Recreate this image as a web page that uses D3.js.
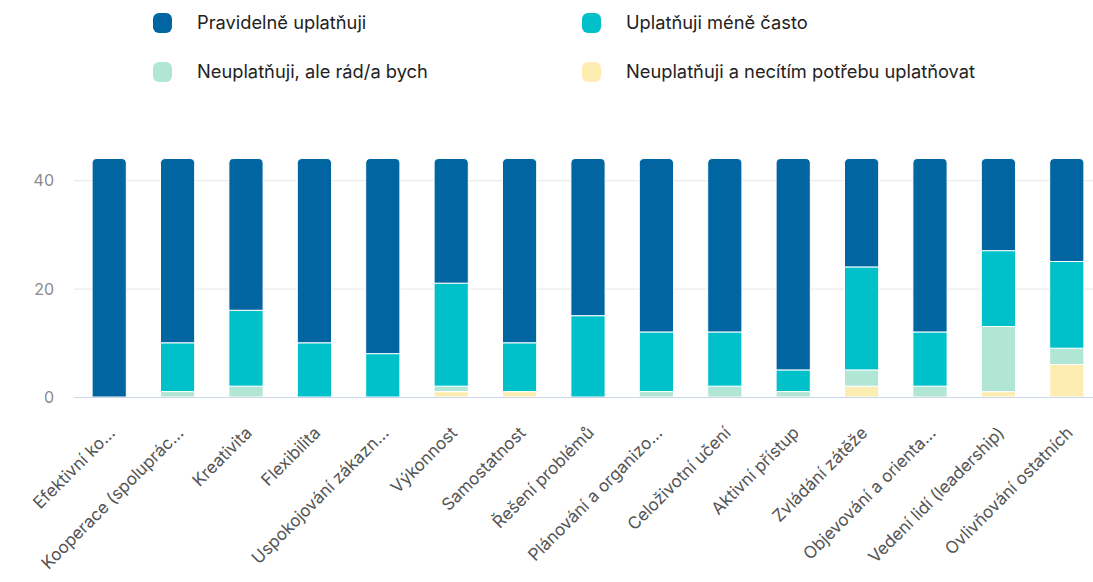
<!DOCTYPE html>
<html>
<head>
<meta charset="utf-8">
<script src="https://cdn.jsdelivr.net/npm/d3@7"></script>
<style>
  html, body { margin: 0; padding: 0; background: #ffffff; }
  svg { display: block; font-family: Inter, "Noto Sans", sans-serif; }
</style>
</head>
<body>
<svg id="chart" width="1093" height="582"></svg>
<script>
const categories = [
  "Efektivní ko…", "Kooperace (spoluprác…", "Kreativita", "Flexibilita",
  "Uspokojování zákazn…", "Výkonnost", "Samostatnost", "Řešení problémů",
  "Plánování a organizo…", "Celoživotní učení", "Aktivní přístup",
  "Zvládání zátěže", "Objevování a orienta…", "Vedení lidí (leadership)",
  "Ovlivňování ostatních"
];
const seriesNames = [
  "Pravidelně uplatňuji", "Uplatňuji méně často",
  "Neuplatňuji, ale rád/a bych", "Neuplatňuji a necítím potřebu uplatňovat"
];
const pravidelne = [44, 34, 28, 34, 36, 23, 34, 29, 32, 32, 39, 20, 32, 17, 19];
const meneCasto  = [0, 9, 14, 10, 8, 19, 9, 15, 11, 10, 4, 19, 10, 14, 16];
const radBych    = [0, 1, 2, 0, 0, 1, 0, 0, 1, 2, 1, 3, 2, 12, 3];
const nepotreba  = [0, 0, 0, 0, 0, 1, 1, 0, 0, 0, 0, 2, 0, 1, 6];
const yTicks = [0, 20, 40];
const colors = ["#0065a1", "#00c1ca", "#b1e5d4", "#feedb3"];

const svg = d3.select("#chart");
const left = 74, right = 1093, bottom = 397;

const x = d3.scaleBand().domain(categories).range([75, 1101]).paddingInner(0.5).paddingOuter(0.25);
const y = d3.scaleLinear().domain([0, 44]).range([bottom, 158.5]);

// gridlines
svg.append("g").selectAll("line").data(yTicks.filter(t => t > 0)).join("line")
  .attr("x1", left).attr("x2", right)
  .attr("y1", d => y(d) + 0.5).attr("y2", d => y(d) + 0.5)
  .attr("stroke", "#e6e6e6").attr("stroke-width", 1);

// y labels
svg.append("g").selectAll("text").data(yTicks).join("text")
  .attr("x", 54).attr("y", d => y(d) + 6)
  .attr("text-anchor", "end")
  .attr("font-size", 16).attr("fill", "#8a8a8a")
  .text(d => d);

// data table
const rows = categories.map((c, i) => ({
  cat: c, s0: pravidelne[i], s1: meneCasto[i], s2: radBych[i], s3: nepotreba[i]
}));
const keys = ["s3", "s2", "s1", "s0"];
const keyColor = { s0: colors[0], s1: colors[1], s2: colors[2], s3: colors[3] };
const stack = d3.stack().keys(keys)(rows);

const r = 5;
function segPath(x0, w, yTop, yBot, rounded) {
  if (!rounded) return `M${x0},${yBot}V${yTop}H${x0 + w}V${yBot}Z`;
  return `M${x0},${yBot}V${yTop + r}Q${x0},${yTop} ${x0 + r},${yTop}H${x0 + w - r}Q${x0 + w},${yTop} ${x0 + w},${yTop + r}V${yBot}Z`;
}

stack.forEach(layer => {
  svg.append("g").selectAll("path").data(layer.filter(d => d[1] - d[0] > 0)).join("path")
    .attr("d", d => segPath(x(d.data.cat), x.bandwidth(), y(d[1]), y(d[0]), layer.key === "s0"))
    .attr("fill", keyColor[layer.key])
    .attr("stroke", "#ffffff").attr("stroke-width", 1);
});

// x axis line
svg.append("line").attr("x1", left).attr("x2", right)
  .attr("y1", bottom + 0.5).attr("y2", bottom + 0.5)
  .attr("stroke", "#ccd6eb").attr("stroke-width", 1);

// x labels
svg.append("g").selectAll("text").data(categories).join("text")
  .attr("transform", d => `translate(${x(d) + x.bandwidth() / 2 + 7},${bottom + 37}) rotate(-45)`)
  .attr("text-anchor", "end")
  .attr("font-size", 17).attr("fill", "#555555")
  .text(d => d);

// legend
const legendPos = [[153, 23], [582, 23], [153, 72], [582, 72]];
const lg = svg.append("g").selectAll("g").data(seriesNames).join("g")
  .attr("transform", (d, i) => `translate(${legendPos[i][0]},${legendPos[i][1]})`);
lg.append("rect").attr("x", 0).attr("y", -10).attr("width", 19).attr("height", 20)
  .attr("rx", 6).attr("fill", (d, i) => colors[i]);
lg.append("text").attr("x", 44).attr("y", 6)
  .attr("font-size", 18.3).attr("fill", "#222222")
  .text(d => d);
</script>
</body>
</html>
